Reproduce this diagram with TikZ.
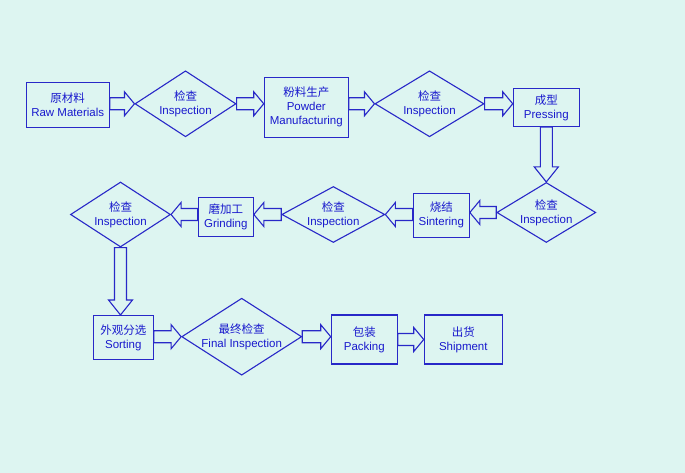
\documentclass[tikz,border=0pt]{standalone}
\usepackage{fontspec}
\setmainfont{Liberation Sans}
\newfontfamily\cjk{Noto Sans CJK SC}
\usepackage{tikz}
\usetikzlibrary{shapes.geometric,calc}

\definecolor{bg}{RGB}{221,245,241}
\definecolor{lc}{RGB}{40,40,200}
\definecolor{tc}{RGB}{25,25,205}

\tikzset{
  box/.style={draw=lc, line width=1.1pt, text=tc, align=center, inner sep=0pt,
    font=\fontsize{11.5}{14}\selectfont},
  chk/.style={draw=lc, line width=1.1pt, diamond, inner sep=0pt},
  chktext/.style={text=tc, align=center, inner sep=0pt, font=\fontsize{11.5}{14}\selectfont},
  fat/.style={draw=lc, line width=1.1pt, line join=miter, to path={
    let \p1=(\tikztostart), \p2=(\tikztotarget),
        \p3=($(\tikztotarget)!#1!(\tikztostart)$) in
    ($(\p1)!6pt!90:(\p2)$) -- ($(\p3)!6pt!90:(\p2)$) -- ($(\p3)!12pt!90:(\p2)$)
    -- (\p2) -- ($(\p3)!12pt!-90:(\p2)$) -- ($(\p3)!6pt!-90:(\p2)$)
    -- ($(\p1)!6pt!-90:(\p2)$) -- cycle}},
  fat/.default=10pt
}

\begin{document}
\begin{tikzpicture}[x=1pt,y=-1pt]
        \fill[bg] (0,0) rectangle (685,473);
        \useasboundingbox (0,0) rectangle (685,473);

        % fila superior
        \node[box, minimum width=83, minimum height=45] (raw) at (67.7,104.8) {{\cjk 原材料}\\Raw Materials};
        \node[chk, minimum width=101, minimum height=66, label={[chktext]center:{{\cjk 检查}\\Inspection}}] (chk1) at (185.5,103.8) {};
        \node[box, minimum width=84, minimum height=60] (powder) at (306.3,107.3) {{\cjk 粉料生产}\\Powder\\Manufacturing};
        \node[chk, minimum width=109, minimum height=66, label={[chktext]center:{{\cjk 检查}\\Inspection}}] (chk2) at (429.5,103.8) {};
        \node[box, minimum width=66, minimum height=38] (press) at (546.3,107.5) {{\cjk 成型}\\Pressing};

        % fila central
        \node[chk, minimum width=99, minimum height=60, label={[chktext]center:{{\cjk 检查}\\Inspection}}] (chk3) at (546.3,212.5) {};
        \node[box, minimum width=56, minimum height=44] (sinter) at (441.3,215.3) {{\cjk 烧结}\\Sintering};
        \node[chk, minimum width=103, minimum height=56, label={[chktext]center:{{\cjk 检查}\\Inspection}}] (chk4) at (333.3,214.5) {};
        \node[box, minimum width=55, minimum height=39] (grind) at (225.8,217.3) {{\cjk 磨加工}\\Grinding};
        \node[chk, minimum width=100, minimum height=65, label={[chktext]center:{{\cjk 检查}\\Inspection}}] (chk5) at (120.5,214.5) {};

        % fila inferior
        \node[box, minimum width=60, minimum height=44] (sort) at (123.3,337.5) {{\cjk 外观分选}\\Sorting};
        \node[chk, minimum width=120, minimum height=77, label={[chktext]center:{{\cjk 最终检查}\\Final Inspection}}] (final) at (241.7,336.7) {};
        \node[box, minimum width=66, minimum height=49] (pack) at (364.3,339.5) {{\cjk 包装}\\Packing};
        \node[box, minimum width=78, minimum height=49] (ship) at (463.3,339.5) {{\cjk 出货}\\Shipment};

        \draw[fat] (chk1.west -| raw.east) to (chk1.west);
        \draw[fat] (chk1.east) to (chk1.east -| powder.west);
        \draw[fat] (chk2.west -| powder.east) to (chk2.west);
        \draw[fat] (chk2.east) to (chk2.east -| press.west);
        \draw[fat=15pt] (press.south) to (press.south |- chk3.north);
        \draw[fat] (chk3.west) to (chk3.west -| sinter.east);
        \draw[fat] (chk4.east -| sinter.west) to (chk4.east);
        \draw[fat] (chk4.west) to (chk4.west -| grind.east);
        \draw[fat] (chk5.east -| grind.west) to (chk5.east);
        \draw[fat=15pt] (chk5.south) to (chk5.south |- sort.north);
        \draw[fat] (final.west -| sort.east) to (final.west);
        \draw[fat] (final.east) to (final.east -| pack.west);
        \draw[fat] (pack.east) to (ship.west);
    \end{tikzpicture}
\end{document}
